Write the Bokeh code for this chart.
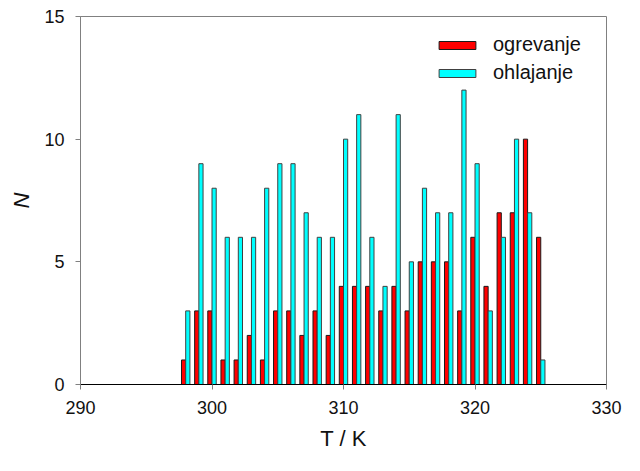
from bokeh.plotting import figure
from bokeh.models import Range1d, FixedTicker, Legend, LegendItem, ColumnDataSource
from bokeh.transform import dodge
from bokeh.embed import file_html
from bokeh.resources import INLINE

temps = list(range(298, 326))
ogrevanje = [1, 3, 3, 1, 1, 2, 1, 3, 3, 2, 3, 2, 4, 4, 4, 3, 4, 3, 5, 5, 5, 3, 6, 4, 7, 7, 10, 6]
ohlajanje = [3, 9, 8, 6, 6, 6, 8, 9, 9, 7, 6, 6, 10, 11, 6, 4, 11, 5, 8, 7, 7, 12, 9, 3, 6, 10, 7, 1]
x_ticks = [290, 300, 310, 320, 330]
y_ticks = [0, 5, 10, 15]
series_names = ["ogrevanje", "ohlajanje"]

src = ColumnDataSource(dict(T=temps, heat=ogrevanje, cool=ohlajanje))

FONT = "Liberation Sans"
GRAY = "#808080"

p = figure(width=624, height=455, output_backend="svg", toolbar_location=None,
           x_range=Range1d(290, 330), y_range=Range1d(0, 15),
           min_border_left=80, min_border_right=18, min_border_top=16, min_border_bottom=71)
p.background_fill_color = "white"
p.border_fill_color = "white"
p.outline_line_color = GRAY
p.outline_line_width = 1
p.xgrid.visible = False
p.ygrid.visible = False

r1 = p.vbar(x=dodge("T", -0.16, range=p.x_range), top="heat", width=0.32, source=src,
            fill_color="#FF0000", line_color="#1a1a1a", line_width=1)
r2 = p.vbar(x=dodge("T", 0.16, range=p.x_range), top="cool", width=0.32, source=src,
            fill_color="#00FFFF", line_color="#404040", line_width=1)

# axes
p.xaxis.ticker = FixedTicker(ticks=x_ticks)
p.yaxis.ticker = FixedTicker(ticks=y_ticks)
for ax in (p.xaxis, p.yaxis):
    ax.major_tick_in = 0
    ax.major_tick_out = 5
    ax.minor_tick_line_color = None
    ax.major_tick_line_color = GRAY
    ax.major_label_text_font = FONT
    ax.major_label_text_font_size = "18px"
    ax.major_label_text_color = "#111111"
    ax.axis_label_text_font = FONT
    ax.axis_label_text_font_size = "22px"
    ax.axis_label_text_color = "#111111"
p.xaxis.axis_line_color = "black"
p.yaxis.axis_line_color = GRAY
p.xaxis.major_label_standoff = 11
p.yaxis.major_label_standoff = 11

p.yaxis.axis_label = "N"
p.yaxis.axis_label_text_font_style = "italic"
p.yaxis.axis_label_standoff = 7

p.xaxis.axis_label = "T / K"
p.xaxis.axis_label_text_font_style = "normal"
p.xaxis.axis_label_standoff = 9

legend = Legend(items=[LegendItem(label=series_names[0], renderers=[r1]),
                       LegendItem(label=series_names[1], renderers=[r2])],
                location=(354, 300), padding=0, margin=0, spacing=5,
                glyph_width=46, glyph_height=10, label_standoff=13,
                label_text_font=FONT, label_text_font_size="20px",
                label_text_color="#111111",
                border_line_color=None, background_fill_alpha=0)
p.add_layout(legend)

open("out.html", "w").write(file_html(p, INLINE))
